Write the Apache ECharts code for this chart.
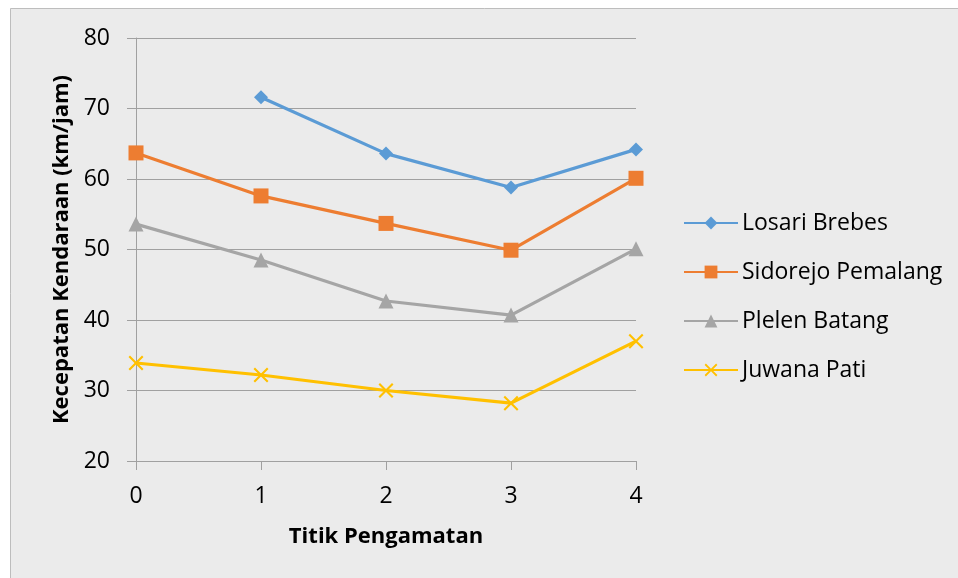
<!DOCTYPE html>
<html>
<head>
<meta charset="utf-8">
<script src="https://cdn.jsdelivr.net/npm/echarts@6/dist/echarts.min.js"></script>
<style>
  html, body { margin: 0; padding: 0; background: #ffffff; }
  #chart { width: 958px; height: 578px; }
</style>
</head>
<body>
<div id="chart"></div>
<script>
// Observation points along the road
const categories = ['0', '1', '2', '3', '4'];

// Vehicle speed (km/jam) at each observation point
const losariBrebes = [null, 71.6, 63.6, 58.8, 64.2];
const sidorejoPemalang = [63.7, 57.6, 53.7, 49.9, 60.1];
const plelenBatang = [53.6, 48.5, 42.7, 40.7, 50.1];
const juwanaPati = [33.9, 32.2, 30.0, 28.2, 37.0];

const seriesNames = ['Losari Brebes', 'Sidorejo Pemalang', 'Plelen Batang', 'Juwana Pati'];
const yTicks = { min: 20, max: 80, interval: 10 };

const FONT = '"Open Sans", sans-serif';
const crossPath = 'path://M0,1L1,0L5,4L9,0L10,1L6,5L10,9L9,10L5,6L1,10L0,9L4,5Z';

function lineSeries(name, data, color, symbol, size) {
  return {
    name: name,
    type: 'line',
    data: data,
    symbol: symbol,
    symbolSize: size,
    showAllSymbol: true,
    connectNulls: false,
    lineStyle: { color: color, width: 3.2 },
    itemStyle: { color: color },
    emphasis: { disabled: true },
    z: 3
  };
}

const chart = echarts.init(document.getElementById('chart'), null, { renderer: 'canvas' });

chart.setOption({
  animation: false,
  backgroundColor: '#ffffff',
  graphic: [{
    type: 'rect',
    shape: { x: 10.5, y: 8.5, width: 960, height: 580 },
    style: { fill: '#ebebeb', stroke: '#bdbdbd', lineWidth: 1 },
    z: -10
  }],
  grid: { left: 136, right: 322, top: 38, bottom: 117, containLabel: false },
  legend: {
    orient: 'vertical',
    left: 683,
    top: 211,
    padding: 0,
    itemWidth: 54,
    itemHeight: 16,
    itemGap: 25,
    textStyle: { fontFamily: FONT, fontSize: 23, lineHeight: 24, color: '#000000', padding: [0, 0, 0, -1] },
    data: seriesNames
  },
  xAxis: {
    type: 'category',
    data: categories,
    boundaryGap: false,
    name: 'Titik Pengamatan',
    nameLocation: 'middle',
    nameGap: 65,
    nameTextStyle: { fontFamily: FONT, fontSize: 22, fontWeight: 'bold', color: '#000000' },
    axisLine: { lineStyle: { color: '#a0a0a0', width: 1 } },
    axisTick: { show: true, inside: false, length: 9, alignWithLabel: true, lineStyle: { color: '#a0a0a0' } },
    axisLabel: { fontFamily: FONT, fontSize: 23, color: '#000000', margin: 24 },
    splitLine: { show: false }
  },
  yAxis: {
    type: 'value',
    min: yTicks.min,
    max: yTicks.max,
    interval: yTicks.interval,
    name: 'Kecepatan Kendaraan (km/jam)',
    nameLocation: 'middle',
    nameGap: 63,
    nameRotate: 90,
    nameTextStyle: { fontFamily: FONT, fontSize: 22, fontWeight: 'bold', color: '#000000' },
    axisLine: { show: true, lineStyle: { color: '#a0a0a0', width: 1 } },
    axisTick: { show: true, inside: false, length: 9, lineStyle: { color: '#a0a0a0' } },
    axisLabel: { fontFamily: FONT, fontSize: 23, color: '#000000', margin: 26 },
    splitLine: { show: true, lineStyle: { color: '#a0a0a0', width: 1 } }
  },
  series: [
    lineSeries(seriesNames[0], losariBrebes, '#5B9BD5', 'diamond', 14),
    lineSeries(seriesNames[1], sidorejoPemalang, '#ED7D31', 'rect', 15),
    lineSeries(seriesNames[2], plelenBatang, '#A5A5A5', 'triangle', 15),
    lineSeries(seriesNames[3], juwanaPati, '#FFC000', crossPath, 15)
  ]
});
</script>
</body>
</html>
